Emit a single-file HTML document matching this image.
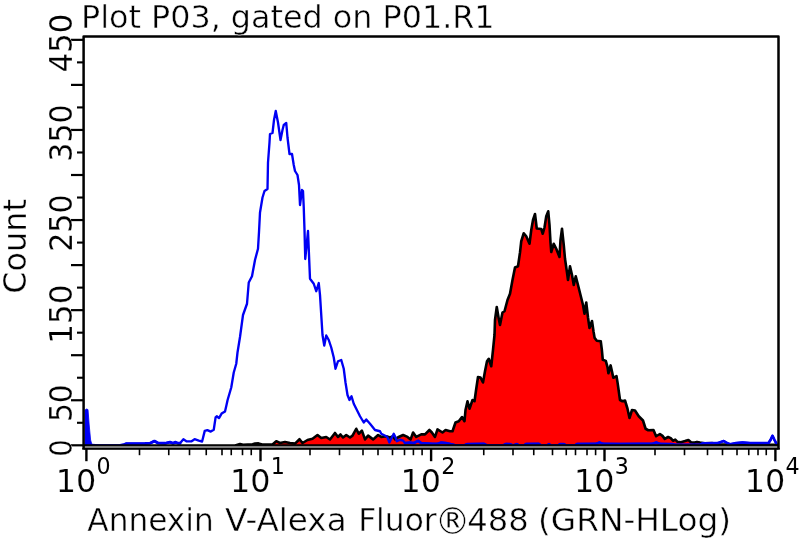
<!DOCTYPE html>
<html lang="en">
<head>
<meta charset="utf-8">
<title>Plot P03, gated on P01.R1</title>
<style>
html,body{margin:0;padding:0;background:#fff;}
body{width:800px;height:538px;overflow:hidden;}
svg{display:block;will-change:transform;}
text{font-family:"DejaVu Sans","Liberation Sans",sans-serif;fill:#000;}
</style>
</head>
<body>
<svg width="800" height="538" viewBox="0 0 800 538">
<rect x="0" y="0" width="800" height="538" fill="#ffffff"/>
<polygon points="236,445.3 240,444 243,444.7 252.5,444.2 255,443.6 258.5,443.4 262,444.6 272.5,444.5 276.25,441.2 280,443 285,442 290,443 295,443.6 299.5,439.25 302.5,443 307.5,440 312.5,438.75 317.5,435 321.25,438 326.25,437 330,439.5 335,433 338,437 340.5,434.5 343,437.5 346.25,435 350,437.5 352.5,435.6 356.25,428.75 358.75,433.75 361.9,430.6 365,439.4 368.1,435.6 373.1,439.4 378.1,435 381.25,436.9 386.25,436.25 390,437.5 393.1,436.25 395,439.4 398.1,437.25 403.1,435 407.5,436.9 410.6,439.4 413.1,432.5 416.25,436.9 421.25,434.4 425,434.4 429.4,430 431.9,432.5 435,436.9 437.5,429.4 442.5,432.5 445.6,430 450,431.25 452.5,431.25 455.5,422.5 458.75,421.25 462,417 464.5,421.25 465.5,410 467.5,401.25 469.5,408.75 472.5,400 474.5,401.25 476.25,388.75 478,377 480.5,377.5 483,382.5 485,371.25 487,361.25 488.75,358.75 491.25,366.25 493,350 494.5,335 495,320 496.75,307 498.75,318.75 500,325 502.5,312.5 504.5,311.25 507.5,300 510,293.75 512.5,280 515,267.5 518,266.25 520,252.5 521.25,241.25 523.75,233.25 526.25,236.25 529.5,243.75 531.25,230 533,220 535,214 536.75,228.5 541.25,229 542.75,233.75 544.5,227.5 546.25,216.25 548.25,211.25 549.5,225 550.5,242.5 551.25,252 553.75,243.75 556.25,248.75 559.5,257 560.5,240 562,228.75 563.75,245 565,258.75 567,272.5 568,280 570,266.25 572,275 573.75,285 575.75,276.25 578,285 580.5,295 583,305 584.5,313.75 586.25,302.5 588,317.5 589.5,328 592,321 593.6,332 594.6,337.9 596.8,340.7 600.75,341.25 601.9,350.25 602.8,359.8 605.8,360.9 607.5,367.1 608.4,373.3 610.6,365.4 612,371.6 613.3,377.8 616.5,376.1 617.6,382.9 618.6,390 620,400 622.5,401.25 625,400.5 627.5,408.75 629.5,418 632,410 635,410.5 638.75,416.25 640,417.5 643,420.5 645.6,428.75 648.25,430.25 653.5,430.1 656.1,436.25 659.9,434 662.5,435.9 664.75,438.9 668.1,437 670.75,438.1 673,440.75 675.25,439.6 677.5,441.9 680.9,442.25 685,441.1 688.4,440 691,442.25 694.75,442.6 697,441.9 700,442.6 705,443.2 712,443 720,444.2 740,444.6 777,444.8 777,445.5 236,445.5" fill="#ff0000" stroke="none"/>
<polyline points="236,445.3 240,444 243,444.7 252.5,444.2 255,443.6 258.5,443.4 262,444.6 272.5,444.5 276.25,441.2 280,443 285,442 290,443 295,443.6 299.5,439.25 302.5,443 307.5,440 312.5,438.75 317.5,435 321.25,438 326.25,437 330,439.5 335,433 338,437 340.5,434.5 343,437.5 346.25,435 350,437.5 352.5,435.6 356.25,428.75 358.75,433.75 361.9,430.6 365,439.4 368.1,435.6 373.1,439.4 378.1,435 381.25,436.9 386.25,436.25 390,437.5 393.1,436.25 395,439.4 398.1,437.25 403.1,435 407.5,436.9 410.6,439.4 413.1,432.5 416.25,436.9 421.25,434.4 425,434.4 429.4,430 431.9,432.5 435,436.9 437.5,429.4 442.5,432.5 445.6,430 450,431.25 452.5,431.25 455.5,422.5 458.75,421.25 462,417 464.5,421.25 465.5,410 467.5,401.25 469.5,408.75 472.5,400 474.5,401.25 476.25,388.75 478,377 480.5,377.5 483,382.5 485,371.25 487,361.25 488.75,358.75 491.25,366.25 493,350 494.5,335 495,320 496.75,307 498.75,318.75 500,325 502.5,312.5 504.5,311.25 507.5,300 510,293.75 512.5,280 515,267.5 518,266.25 520,252.5 521.25,241.25 523.75,233.25 526.25,236.25 529.5,243.75 531.25,230 533,220 535,214 536.75,228.5 541.25,229 542.75,233.75 544.5,227.5 546.25,216.25 548.25,211.25 549.5,225 550.5,242.5 551.25,252 553.75,243.75 556.25,248.75 559.5,257 560.5,240 562,228.75 563.75,245 565,258.75 567,272.5 568,280 570,266.25 572,275 573.75,285 575.75,276.25 578,285 580.5,295 583,305 584.5,313.75 586.25,302.5 588,317.5 589.5,328 592,321 593.6,332 594.6,337.9 596.8,340.7 600.75,341.25 601.9,350.25 602.8,359.8 605.8,360.9 607.5,367.1 608.4,373.3 610.6,365.4 612,371.6 613.3,377.8 616.5,376.1 617.6,382.9 618.6,390 620,400 622.5,401.25 625,400.5 627.5,408.75 629.5,418 632,410 635,410.5 638.75,416.25 640,417.5 643,420.5 645.6,428.75 648.25,430.25 653.5,430.1 656.1,436.25 659.9,434 662.5,435.9 664.75,438.9 668.1,437 670.75,438.1 673,440.75 675.25,439.6 677.5,441.9 680.9,442.25 685,441.1 688.4,440 691,442.25 694.75,442.6 697,441.9 700,442.6 705,443.2 712,443 720,444.2 740,444.6 777,444.8" fill="none" stroke="#000" stroke-width="2.6" stroke-linejoin="round" stroke-linecap="round"/>
<polygon points="85,445 85,410 86.5,409 88,409.6 89.2,425 90.6,440 92,444.8" fill="#0000f5" stroke="#0000f5" stroke-width="0.8" stroke-linejoin="round"/>
<polyline points="91.5,445.2 100,445.6 110,445.6 120,445.4 124,444.6 126,443.7 135,443.6 145,443.5 150,443.2 154.4,441.1 158,443.1 165,443.3 170,442.2 173,443.3 175.6,442.2 178,443.3 180,443.25 183.4,439.3 186.75,441.4 191.25,441.4 194.6,439.2 198.75,440.6 202.1,441.5 204.75,430.9 207.4,430.1 210.75,431.6 213.75,429.75 215.6,417.4 216.75,416.25 219,418.1 221.6,413.6 225,411.4 226.5,405 227.6,400 231.25,387.5 233.75,372.5 236.25,363.75 237.5,352.5 240,337 243,315 247,303.75 248.75,282.5 252,276.25 255,260 258,248.75 259,232 260,212.5 262.5,197.5 264.5,191 267.5,189 268,162.5 269.5,142.5 270,134 272.5,133 274,120 275.75,111 278,122.5 280.5,140 282.5,130 283.75,125 286.25,123 287.5,137.5 289.5,154 292,154 293.75,165 295,171 297.5,175 299,185 300,205 302,190 303,191 303.75,207.5 304.5,230 305.25,259 308,231 310,278.75 313.75,283.75 316.25,291.25 318.75,283 320,295 321.25,315 322.5,335 324.25,345.5 326.25,335.5 328.75,340 331.25,347.5 333.75,357.5 335.5,368.75 338,361.25 341.25,360 343.75,368.75 345.5,382.5 347.5,395 349.5,400 351.5,396.25 353.75,403.75 356.25,408.75 360,416.25 363.75,422.5 366.25,419.5 370,423.75 375,430 380,431.25 381.25,433.75 386.25,436.25 387.5,437.5 389.4,442.5 391.25,438.75 393.75,433.75 395.6,437.5 396.9,441.25 400,439.75 403.1,440.6 405,443.1 410,442.6 413.75,443.1 418.1,440.8 421.25,443.1 432.5,443.8 437.5,443.8 441.25,442.6 446.25,443.1 450,443.9 456,445.5 464,445.5 467,444.1 484,443.9 487,445.5 503,445.5 506,444 510,444.1 513,445.5 517,444.1 519,445.5 524,445.5 526,444 539,443.9 541,445.5 547,445.5 549,444.1 551,445.5 558,445.5 560,444.1 564,444.1 566,445.5 575,445.5 577,444 596,443.9 599.5,442.5 603,443.9 620,444 640,443.9 652,443.9 656.25,442.5 660,443.9 672,444.1 675,444.8 700,444.8 703,443.2 718,443 723.75,441 727,443 730,444.3 736,443.1 742.5,442.5 750,443.1 760,443.1 768.5,443 770.5,440 772.5,435.8 774.5,440 776.2,443.2" fill="none" stroke="#0000f4" stroke-width="2.35" stroke-linejoin="round" stroke-linecap="round"/>
<polyline points="91.5,445.2 100,445.6 110,445.6 120,445.4 124,444.6 126,443.7 135,443.6 145,443.5 150,443.2 154.4,441.1 158,443.1 165,443.3 170,442.2 173,443.3 175.6,442.2 178,443.3 180,443.25" fill="none" stroke="#0000f4" stroke-width="2.9" stroke-linejoin="round" stroke-linecap="round"/>
<polyline points="405,443.1 410,442.6 413.75,443.1 418.1,440.8 421.25,443.1 432.5,443.8 437.5,443.8 441.25,442.6 446.25,443.1 450,443.9 456,445.5 464,445.5 467,444.1 484,443.9 487,445.5 503,445.5 506,444 510,444.1 513,445.5 517,444.1 519,445.5 524,445.5 526,444 539,443.9 541,445.5 547,445.5 549,444.1 551,445.5 558,445.5 560,444.1 564,444.1 566,445.5 575,445.5 577,444 596,443.9 599.5,442.5 603,443.9 620,444 640,443.9 652,443.9 656.25,442.5 660,443.9 672,444.1 675,444.8 700,444.8 703,443.2 718,443 723.75,441 727,443 730,444.3 736,443.1 742.5,442.5 750,443.1 760,443.1 768.5,443 770.5,440 772.5,435.8 774.5,440 776.2,443.2" fill="none" stroke="#0000f4" stroke-width="2.6" stroke-linejoin="round" stroke-linecap="round"/>
<rect x="84" y="444.25" width="694" height="1.75" fill="#000"/>
<rect x="84" y="445.95" width="694" height="2.2" fill="#7f7f7f"/>
<rect x="84" y="448.05" width="694" height="1.5" fill="#000"/>
<path d="M83.6,449.5 V36.5 H778.5 V449.5" fill="none" stroke="#000" stroke-width="2.5" stroke-linejoin="round"/>
<rect x="82.35" y="448.05" width="697.4" height="1.5" fill="#000"/>
<g stroke="#000" stroke-linecap="butt">
<line x1="86.4" y1="449" x2="86.4" y2="461.2" stroke-width="2.4"/>
<line x1="260.5" y1="449" x2="260.5" y2="461.2" stroke-width="2.4"/>
<line x1="431.1" y1="449" x2="431.1" y2="461.2" stroke-width="2.4"/>
<line x1="604.5" y1="449" x2="604.5" y2="461.2" stroke-width="2.4"/>
<line x1="775.4" y1="449" x2="775.4" y2="461.2" stroke-width="2.4"/>
<line x1="139.5" y1="449" x2="139.5" y2="455.2" stroke-width="1.6"/>
<line x1="168.75" y1="449" x2="168.75" y2="455.2" stroke-width="1.6"/>
<line x1="189.5" y1="449" x2="189.5" y2="455.2" stroke-width="1.6"/>
<line x1="206.25" y1="449" x2="206.25" y2="455.2" stroke-width="1.6"/>
<line x1="222" y1="449" x2="222" y2="455.2" stroke-width="1.6"/>
<line x1="231.25" y1="449" x2="231.25" y2="455.2" stroke-width="1.6"/>
<line x1="242.5" y1="449" x2="242.5" y2="455.2" stroke-width="1.6"/>
<line x1="251.25" y1="449" x2="251.25" y2="455.2" stroke-width="1.6"/>
<line x1="310" y1="449" x2="310" y2="455.2" stroke-width="1.6"/>
<line x1="339.5" y1="449" x2="339.5" y2="455.2" stroke-width="1.6"/>
<line x1="363" y1="449" x2="363" y2="455.2" stroke-width="1.6"/>
<line x1="378" y1="449" x2="378" y2="455.2" stroke-width="1.6"/>
<line x1="392.5" y1="449" x2="392.5" y2="455.2" stroke-width="1.6"/>
<line x1="404.5" y1="449" x2="404.5" y2="455.2" stroke-width="1.6"/>
<line x1="413.4" y1="449" x2="413.4" y2="455.2" stroke-width="1.6"/>
<line x1="422.1" y1="449" x2="422.1" y2="455.2" stroke-width="1.6"/>
<line x1="483.75" y1="449" x2="483.75" y2="455.2" stroke-width="1.6"/>
<line x1="513" y1="449" x2="513" y2="455.2" stroke-width="1.6"/>
<line x1="533.75" y1="449" x2="533.75" y2="455.2" stroke-width="1.6"/>
<line x1="552.5" y1="449" x2="552.5" y2="455.2" stroke-width="1.6"/>
<line x1="566.25" y1="449" x2="566.25" y2="455.2" stroke-width="1.6"/>
<line x1="575.5" y1="449" x2="575.5" y2="455.2" stroke-width="1.6"/>
<line x1="587" y1="449" x2="587" y2="455.2" stroke-width="1.6"/>
<line x1="595.6" y1="449" x2="595.6" y2="455.2" stroke-width="1.6"/>
<line x1="655" y1="449" x2="655" y2="455.2" stroke-width="1.6"/>
<line x1="684.5" y1="449" x2="684.5" y2="455.2" stroke-width="1.6"/>
<line x1="707.5" y1="449" x2="707.5" y2="455.2" stroke-width="1.6"/>
<line x1="722.5" y1="449" x2="722.5" y2="455.2" stroke-width="1.6"/>
<line x1="737" y1="449" x2="737" y2="455.2" stroke-width="1.6"/>
<line x1="748.75" y1="449" x2="748.75" y2="455.2" stroke-width="1.6"/>
<line x1="758" y1="449" x2="758" y2="455.2" stroke-width="1.6"/>
<line x1="766.25" y1="449" x2="766.25" y2="455.2" stroke-width="1.6"/>
<line x1="71" y1="445.30" x2="83" y2="445.30" stroke-width="2.2"/>
<line x1="71" y1="400.25" x2="83" y2="400.25" stroke-width="2.2"/>
<line x1="71" y1="355.20" x2="83" y2="355.20" stroke-width="2.2"/>
<line x1="71" y1="310.15" x2="83" y2="310.15" stroke-width="2.2"/>
<line x1="71" y1="265.10" x2="83" y2="265.10" stroke-width="2.2"/>
<line x1="71" y1="220.05" x2="83" y2="220.05" stroke-width="2.2"/>
<line x1="71" y1="175.00" x2="83" y2="175.00" stroke-width="2.2"/>
<line x1="71" y1="129.95" x2="83" y2="129.95" stroke-width="2.2"/>
<line x1="71" y1="84.90" x2="83" y2="84.90" stroke-width="2.2"/>
<line x1="71" y1="39.85" x2="83" y2="39.85" stroke-width="2.2"/>
<line x1="77" y1="422.78" x2="83" y2="422.78" stroke-width="2.1"/>
<line x1="77" y1="377.73" x2="83" y2="377.73" stroke-width="2.1"/>
<line x1="77" y1="332.68" x2="83" y2="332.68" stroke-width="2.1"/>
<line x1="77" y1="287.62" x2="83" y2="287.62" stroke-width="2.1"/>
<line x1="77" y1="242.58" x2="83" y2="242.58" stroke-width="2.1"/>
<line x1="77" y1="197.53" x2="83" y2="197.53" stroke-width="2.1"/>
<line x1="77" y1="152.48" x2="83" y2="152.48" stroke-width="2.1"/>
<line x1="77" y1="107.43" x2="83" y2="107.43" stroke-width="2.1"/>
<line x1="77" y1="62.38" x2="83" y2="62.38" stroke-width="2.1"/>
</g>
<text x="81.04" y="27.70" font-size="31.2" textLength="413.54" lengthAdjust="spacingAndGlyphs" stroke="#fff" stroke-width="0.45">Plot P03, gated on P01.R1</text>
<text x="87.30" y="531.00" font-size="32.7" textLength="126.47" lengthAdjust="spacingAndGlyphs" stroke="#fff" stroke-width="0.45">Annexin</text>
<text x="225.00" y="531.00" font-size="32.7" textLength="121.67" lengthAdjust="spacingAndGlyphs" stroke="#fff" stroke-width="0.45">V-Alexa</text>
<text x="358.13" y="531.00" font-size="32.7" textLength="78.52" lengthAdjust="spacingAndGlyphs" stroke="#fff" stroke-width="0.45">Fluor</text>
<text x="434.73" y="533.90" font-size="36.6" textLength="35.63" lengthAdjust="spacingAndGlyphs" stroke="#fff" stroke-width="0.45">®</text>
<text x="467.28" y="531.00" font-size="32.7" textLength="61.48" lengthAdjust="spacingAndGlyphs" stroke="#fff" stroke-width="0.45">488</text>
<text x="538.00" y="531.00" font-size="32.7" textLength="193.07" lengthAdjust="spacingAndGlyphs" stroke="#fff" stroke-width="0.45">(GRN-HLog)</text>
<g transform="translate(26.4,291.7) rotate(-90)"><text x="-1.97" y="0.00" font-size="32.4" textLength="94.65" lengthAdjust="spacingAndGlyphs" stroke="#fff" stroke-width="0.3">Count</text>
</g>
<g transform="translate(72.0,455.05) rotate(-90)"><text x="-1.69" y="0.00" font-size="32.4" textLength="17.39" lengthAdjust="spacingAndGlyphs" stroke="#fff" stroke-width="0.2">0</text>
</g>
<g transform="translate(72.0,420.25) rotate(-90)"><text x="-1.84" y="0.00" font-size="32.4" textLength="37.88" lengthAdjust="spacingAndGlyphs" stroke="#fff" stroke-width="0.2">50</text>
</g>
<g transform="translate(72.0,340.25) rotate(-90)"><text x="-3.87" y="0.00" font-size="32.4" textLength="59.84" lengthAdjust="spacingAndGlyphs" stroke="#fff" stroke-width="0.2">150</text>
</g>
<g transform="translate(72.0,249.95) rotate(-90)"><text x="-1.86" y="0.00" font-size="32.4" textLength="57.35" lengthAdjust="spacingAndGlyphs" stroke="#fff" stroke-width="0.2">250</text>
</g>
<g transform="translate(72.0,159.80) rotate(-90)"><text x="-1.85" y="0.00" font-size="32.4" textLength="57.24" lengthAdjust="spacingAndGlyphs" stroke="#fff" stroke-width="0.2">350</text>
</g>
<g transform="translate(72.0,70.35) rotate(-90)"><text x="-1.90" y="0.00" font-size="32.4" textLength="58.63" lengthAdjust="spacingAndGlyphs" stroke="#fff" stroke-width="0.2">450</text>
</g>
<text x="55.79" y="491.9" font-size="32.6" textLength="40.52" lengthAdjust="spacingAndGlyphs" stroke="#fff" stroke-width="0.2">10</text>
<text x="96.60" y="474.1" font-size="22.2">0</text>
<text x="229.89" y="491.9" font-size="32.6" textLength="40.52" lengthAdjust="spacingAndGlyphs" stroke="#fff" stroke-width="0.2">10</text>
<text x="270.70" y="474.1" font-size="22.2">1</text>
<text x="400.49" y="491.9" font-size="32.6" textLength="40.52" lengthAdjust="spacingAndGlyphs" stroke="#fff" stroke-width="0.2">10</text>
<text x="441.30" y="474.1" font-size="22.2">2</text>
<text x="573.89" y="491.9" font-size="32.6" textLength="40.52" lengthAdjust="spacingAndGlyphs" stroke="#fff" stroke-width="0.2">10</text>
<text x="614.70" y="474.1" font-size="22.2">3</text>
<text x="744.79" y="491.9" font-size="32.6" textLength="40.52" lengthAdjust="spacingAndGlyphs" stroke="#fff" stroke-width="0.2">10</text>
<text x="785.60" y="474.1" font-size="22.2">4</text>
</svg>
</body>
</html>
